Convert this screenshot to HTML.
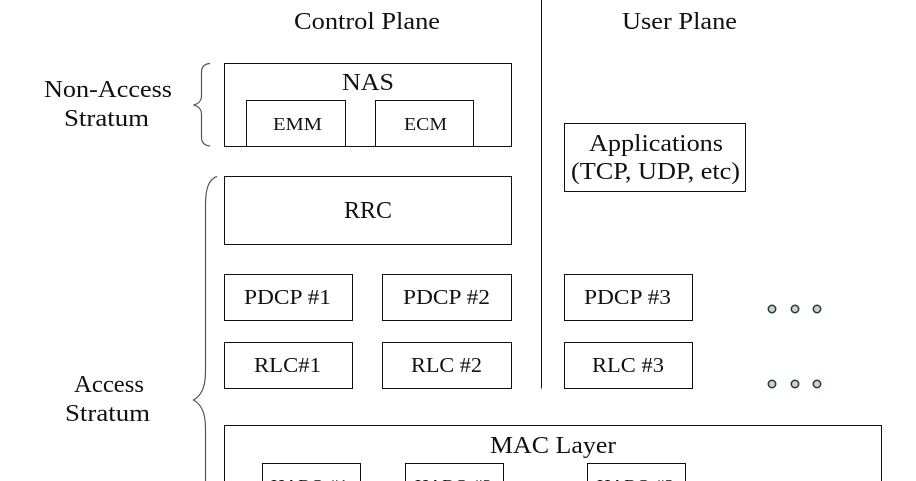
<!DOCTYPE html>
<html><head><meta charset="utf-8"><style>
html,body{margin:0;padding:0;background:#fff;width:916px;height:481px;overflow:hidden}
svg{display:block}
text{font-family:"Liberation Serif",serif;fill:#111;text-anchor:start}
rect{fill:#fff;stroke:#111;stroke-width:1}
.b{fill:none;stroke:#555;stroke-width:1.2}
.d{fill:#c5d6d1;stroke:#2c3a36;stroke-width:1.500}
</style></head><body>
<svg width="916" height="481" viewBox="0 0 916 481" xmlns="http://www.w3.org/2000/svg">
<path d="M541.5 0V388.5" stroke="#111" fill="none"/>
<rect x="224.5" y="63.5" width="287" height="83"/>
<rect x="246.5" y="100.5" width="99" height="46"/>
<rect x="375.5" y="100.5" width="98" height="46"/>
<rect x="224.5" y="176.5" width="287" height="68"/>
<rect x="564.5" y="123.5" width="181" height="68"/>
<rect x="224.5" y="274.5" width="128" height="46"/>
<rect x="382.5" y="274.5" width="129" height="46"/>
<rect x="564.5" y="274.5" width="128" height="46"/>
<rect x="224.5" y="342.5" width="128" height="46"/>
<rect x="382.5" y="342.5" width="129" height="46"/>
<rect x="564.5" y="342.5" width="128" height="46"/>
<rect x="224.5" y="425.5" width="657" height="70"/>
<rect x="262.5" y="463.5" width="98" height="40"/>
<rect x="405.5" y="463.5" width="98" height="40"/>
<rect x="587.5" y="463.5" width="98" height="40"/>
<path class="b" d="M210 63.5C204 64 201.500 67 201.500 72V96C201.500 101 198 104 193.500 105C198 106 201.500 109 201.500 114V137C201.500 142 204 145.500 210 146"/>
<path class="b" d="M217 176.500C209 179 205.500 188 205.500 205V372C205.500 388 201 396 193.500 400C201 404 205.500 412 205.500 428V481"/>
<g font-size="24">
<text x="294" y="29" textLength="146" lengthAdjust="spacingAndGlyphs">Control Plane</text>
<text x="622" y="29" textLength="115" lengthAdjust="spacingAndGlyphs">User Plane</text>
<text x="44" y="97" textLength="128" lengthAdjust="spacingAndGlyphs">Non-Access</text>
<text x="64" y="126" textLength="85" lengthAdjust="spacingAndGlyphs">Stratum</text>
<text x="342" y="90" textLength="52" lengthAdjust="spacingAndGlyphs">NAS</text>
<text x="344" y="218" textLength="48" lengthAdjust="spacingAndGlyphs">RRC</text>
<text x="589" y="151" textLength="134" lengthAdjust="spacingAndGlyphs">Applications</text>
<text x="571" y="179" textLength="169" lengthAdjust="spacingAndGlyphs">(TCP, UDP, etc)</text>
<text x="74" y="392" textLength="70" lengthAdjust="spacingAndGlyphs">Access</text>
<text x="65" y="421" textLength="85" lengthAdjust="spacingAndGlyphs">Stratum</text>
<text x="490" y="453" textLength="126" lengthAdjust="spacingAndGlyphs">MAC Layer</text>
</g>
<g font-size="21">
<text x="244" y="304" textLength="87" lengthAdjust="spacingAndGlyphs">PDCP #1</text>
<text x="403" y="304" textLength="87" lengthAdjust="spacingAndGlyphs">PDCP #2</text>
<text x="584" y="304" textLength="87" lengthAdjust="spacingAndGlyphs">PDCP #3</text>
<text x="254" y="372" textLength="67" lengthAdjust="spacingAndGlyphs">RLC#1</text>
<text x="411" y="372" textLength="71" lengthAdjust="spacingAndGlyphs">RLC #2</text>
<text x="592" y="372" textLength="72" lengthAdjust="spacingAndGlyphs">RLC #3</text>
</g>
<g font-size="18">
<text x="273" y="130" textLength="49" lengthAdjust="spacingAndGlyphs">EMM</text>
<text x="404" y="130" textLength="43" lengthAdjust="spacingAndGlyphs">ECM</text>
</g>
<g font-size="17.5">
<text x="271" y="492" textLength="77" lengthAdjust="spacingAndGlyphs">HARQ #1</text>
<text x="415" y="492" textLength="77" lengthAdjust="spacingAndGlyphs">HARQ #2</text>
<text x="597" y="492" textLength="77" lengthAdjust="spacingAndGlyphs">HARQ #3</text>
</g>
<circle class="d" cx="772" cy="309" r="3.700"/><circle class="d" cx="795" cy="309" r="3.700"/><circle class="d" cx="817" cy="309" r="3.700"/>
<circle class="d" cx="772" cy="384" r="3.700"/><circle class="d" cx="795" cy="384" r="3.700"/><circle class="d" cx="817" cy="384" r="3.700"/>
</svg>
</body></html>
